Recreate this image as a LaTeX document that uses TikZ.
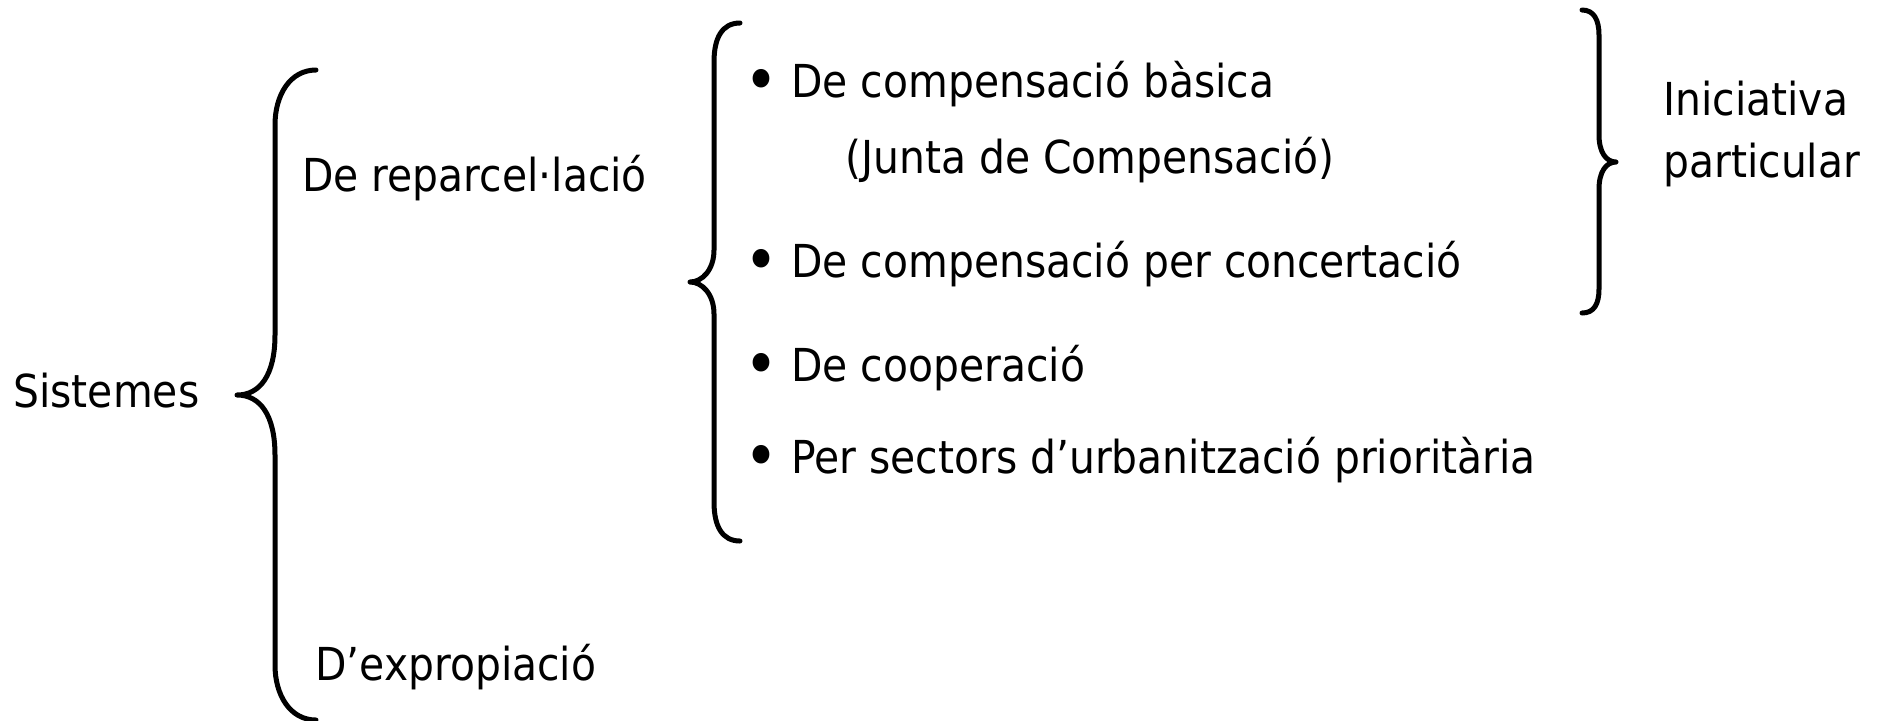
\documentclass[tikz,border=0pt]{standalone}
\usepackage{fontspec}
\setmainfont{DejaVu Sans Condensed}
\newcommand\bul{\makebox[0pt]{\fontsize{32}{32}\selectfont\raisebox{-.08em}{•}}\hspace{15pt}}
\begin{document}
\begin{tikzpicture}[x=0.5pt,y=-0.5pt,line cap=round,line join=round,
  bracket/.style={line width=2.5pt},
  lbl/.style={anchor=base west,inner sep=0pt,font=\fontsize{22.7}{27}\selectfont}]
\useasboundingbox (0,0) rectangle (1889,720);

% braces
\draw[bracket](316,70) .. controls (290,70) and (275,95) .. (275,125) -- (275,335)
  .. controls (275,375) and (260,395) .. (237,395)
  .. controls (260,395) and (275,415) .. (275,455) -- (275,665)
  .. controls (275,695) and (290,720) .. (316,720);
\draw[bracket](740,23) .. controls (722,23) and (714,38) .. (714,62) -- (714,250)
  .. controls (714,270) and (702,282) .. (690,282)
  .. controls (702,282) and (714,294) .. (714,314) -- (714,502)
  .. controls (714,526) and (722,541) .. (740,541);
\draw[bracket](1582,10) .. controls (1594,10) and (1599,20) .. (1599,35) -- (1599,135)
  .. controls (1599,152) and (1606,162) .. (1616,162)
  .. controls (1606,162) and (1599,172) .. (1599,189) -- (1599,289)
  .. controls (1599,304) and (1594,313) .. (1582,313);

% labels
\node[lbl] (sist) at (13,407) {Sistemes};
\node[lbl] (repar) at (302,191) {De reparcel·lació};
\node[lbl] (expro) at (315,680) {D’expropiació};

\node[lbl] (basica) at (761,97) {\bul De compensació bàsica};
\node[lbl] (junta) at (845,173) {(Junta de Compensació)};
\node[lbl] (concert) at (761,277) {\bul De compensació per concertació};
\node[lbl] (coop) at (761,381) {\bul De cooperació};
\node[lbl] (sectors) at (761,473) {\bul Per sectors d’urbanització prioritària};

\node[lbl] (inic) at (1663,115) {Iniciativa};
\node[lbl] (partic) at (1663,177) {particular};
\end{tikzpicture}
\end{document}
